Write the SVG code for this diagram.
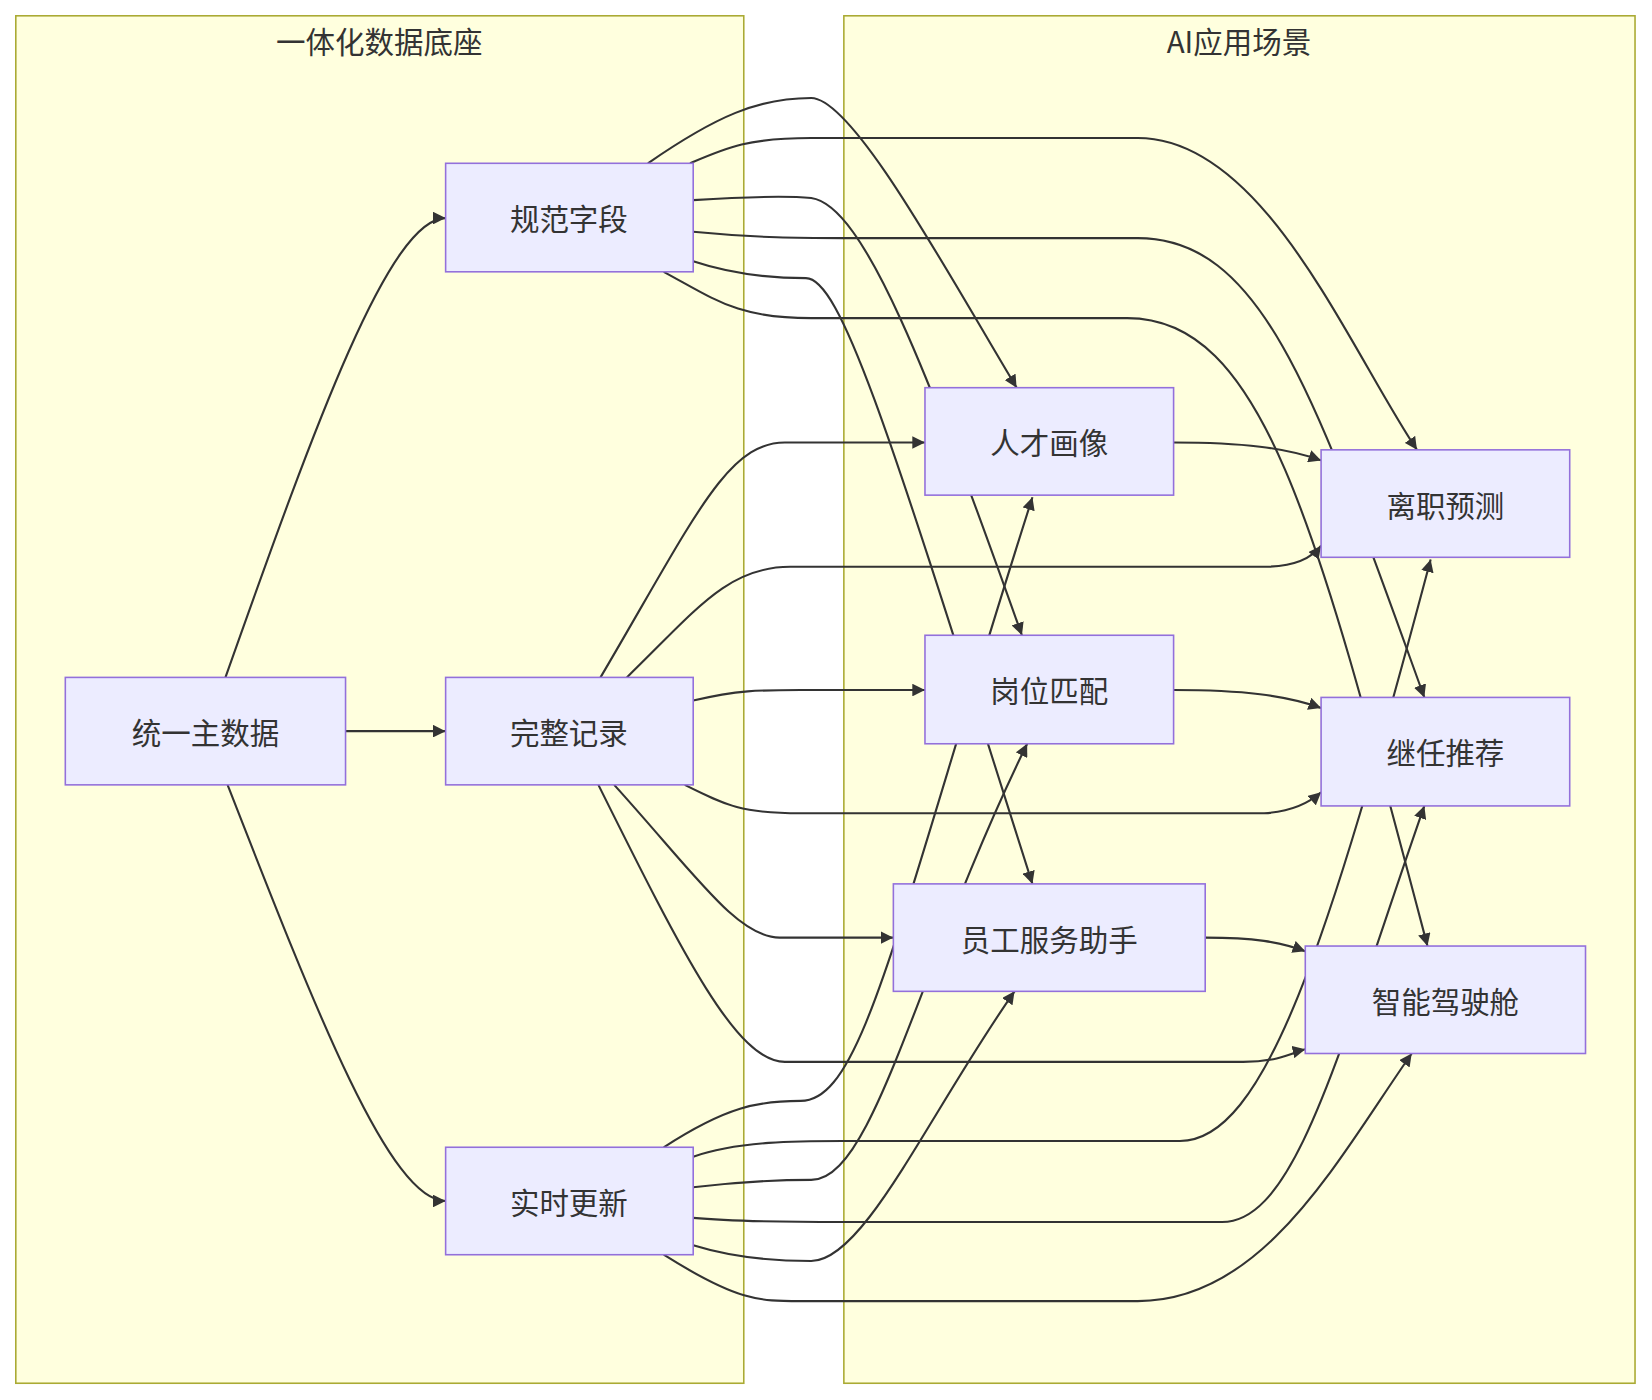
<svg xmlns="http://www.w3.org/2000/svg" width="1652" height="1400" viewBox="0 0 1652 1400">
<style>
.cl{fill:#FFFFDE;stroke:#AAAA33;stroke-width:1.5}
.n rect{fill:#ECECFF;stroke:#9370DB;stroke-width:1.5}
text{font-family:"Noto Sans CJK SC","Liberation Sans",sans-serif;font-size:28px;fill:#333;text-anchor:middle;dominant-baseline:central}
.e path{fill:none;stroke:#333;stroke-width:2;marker-end:url(#ah)}
</style>
<defs><marker id="ah" viewBox="0 0 10 10" refX="10" refY="5" markerWidth="12" markerHeight="12" markerUnits="userSpaceOnUse" orient="auto"><path d="M0,0L10,5L0,10z" fill="#333"/></marker></defs>
<rect width="1652" height="1400" fill="#fff"/>
<g transform="scale(1.0535)">
<g id="cluster-left"><rect class="cl" x="15" y="15" width="691" height="1298"/><text x="360" y="38">一体化数据底座</text></g>
<g id="cluster-right"><rect class="cl" x="801" y="15" width="751" height="1298"/><text x="1176" y="38">AI应用场景</text></g>
<g class="e" id="edges">
<path d="M214,643 C300,400 370,207 423,207"/>
<path d="M328,694 L423,694"/>
<path d="M216,745 C300,960 370,1140 423,1140"/>
<path d="M615,155 C680,110 720,93 770,93 C810,93 900,260 965,368"/>
<path d="M655,155 C690,140 710,131 770,131 L1080,131 C1200,131 1280,330 1345,427"/>
<path d="M658,190 C720,186 750,186 770,188 C820,195 880,350 970,603"/>
<path d="M658,248 C700,262 740,264 765,264 C800,264 850,430 980,839"/>
<path d="M658,220 C720,226 760,226 800,226 L1080,226 C1200,226 1250,380 1352,662"/>
<path d="M630,258 C680,285 700,302 770,302 L1070,302 C1200,302 1250,500 1355,898"/>
<path d="M570,643 C660,490 690,420 745,420 L878,420"/>
<path d="M595,643 C660,580 690,538 750,538 L1200,538 C1230,538 1245,530 1254,518"/>
<path d="M658,665 C700,655 720,655 760,655 L878,655"/>
<path d="M583,745 C660,830 700,890 740,890 L848,890"/>
<path d="M650,745 C690,765 705,772 760,772 L1200,772 C1230,770 1245,760 1254,752"/>
<path d="M568,745 C650,910 700,1008 745,1008 L1180,1008 C1215,1008 1230,998 1239,996"/>
<path d="M630,1089 C690,1050 720,1045 760,1045 C820,1045 850,880 980,472"/>
<path d="M658,1127 C700,1122 740,1120 770,1120 C830,1120 870,920 975,706"/>
<path d="M658,1182 C700,1195 740,1197 770,1197 C820,1197 880,1060 963,941"/>
<path d="M658,1098 C700,1083 760,1083 800,1083 L1120,1083 C1200,1083 1260,900 1358,531"/>
<path d="M658,1156 C700,1160 760,1160 800,1160 L1160,1160 C1230,1160 1270,1000 1352,765"/>
<path d="M630,1191 C700,1235 720,1235 760,1235 L1080,1235 C1200,1235 1270,1100 1340,1000"/>
<path d="M1114,420 C1180,420 1220,425 1254,437"/>
<path d="M1114,655 C1180,655 1220,660 1254,672"/>
<path d="M1144,890 C1190,890 1215,894 1239,903"/>
</g>
<g class="n" id="n-tongyi"><rect x="62" y="643" width="266" height="102"/><text x="195" y="694">统一主数据</text></g>
<g class="n" id="n-guifan"><rect x="423" y="155" width="235" height="103"/><text x="540" y="206">规范字段</text></g>
<g class="n" id="n-wanzheng"><rect x="423" y="643" width="235" height="102"/><text x="540" y="694">完整记录</text></g>
<g class="n" id="n-shishi"><rect x="423" y="1089" width="235" height="102"/><text x="540" y="1140">实时更新</text></g>
<g class="n" id="n-rencai"><rect x="878" y="368" width="236" height="102"/><text x="996" y="419">人才画像</text></g>
<g class="n" id="n-gangwei"><rect x="878" y="603" width="236" height="103"/><text x="996" y="654">岗位匹配</text></g>
<g class="n" id="n-yuangong"><rect x="848" y="839" width="296" height="102"/><text x="996" y="890">员工服务助手</text></g>
<g class="n" id="n-lizhi"><rect x="1254" y="427" width="236" height="102"/><text x="1372" y="478">离职预测</text></g>
<g class="n" id="n-jiren"><rect x="1254" y="662" width="236" height="103"/><text x="1372" y="713">继任推荐</text></g>
<g class="n" id="n-zhineng"><rect x="1239" y="898" width="266" height="102"/><text x="1372" y="949">智能驾驶舱</text></g>
</g>
</svg>
